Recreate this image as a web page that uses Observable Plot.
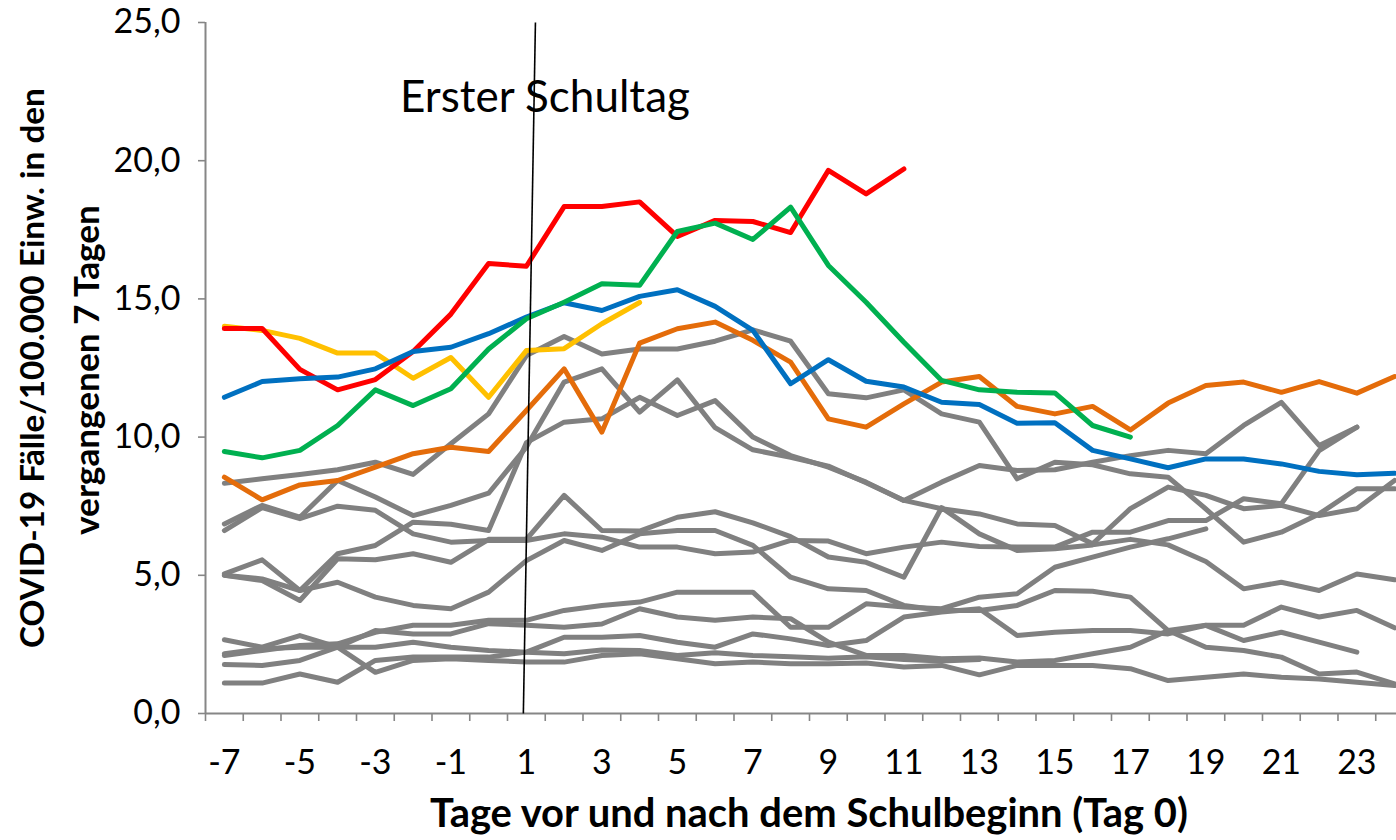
<!DOCTYPE html>
<html><head><meta charset="utf-8">
<script src="https://cdn.jsdelivr.net/npm/d3@7"></script>
<script src="https://cdn.jsdelivr.net/npm/@observablehq/plot@0.6"></script>
<style>
body{margin:0;background:#fff;}
#chart{position:relative;width:1396px;height:840px;overflow:hidden;background:#fff}
#chart svg{position:absolute;left:0;top:0}
</style>
</head><body><div id="chart"></div>
<script>
// Categories (days before/after school start)
const days = [-7,-6,-5,-4,-3,-2,-1,0,1,2,3,4,5,6,7,8,9,10,11,12,13,14,15,16,17,18,19,20,21,22,23,24];
const xTickLabels = [-7,-5,-3,-1,1,3,5,7,9,11,13,15,17,19,21,23];
const yTicks = [0,5,10,15,20,25];

// Highlighted series
const red    = [13.93,13.93,12.45,11.71,12.08,13.1,14.45,16.28,16.18,18.34,18.34,18.51,17.26,17.84,17.8,17.4,19.65,18.8,19.7];
const yellow = [14.01,13.86,13.57,13.04,13.04,12.13,12.88,11.44,13.13,13.2,14.1,14.87];
const green  = [9.48,9.25,9.52,10.42,11.71,11.14,11.75,13.19,14.28,14.88,15.55,15.49,17.44,17.74,17.15,18.32,16.21,14.88,13.43,12.05,11.71,11.62,11.6,10.42,10.0];
const blue   = [11.44,12.01,12.11,12.17,12.47,13.1,13.25,13.74,14.34,14.86,14.58,15.09,15.33,14.73,13.86,11.93,12.8,12.02,11.81,11.26,11.18,10.5,10.52,9.52,9.21,8.89,9.21,9.21,9.03,8.76,8.64,8.69];
const orange = [8.55,7.73,8.27,8.43,8.91,9.4,9.63,9.48,10.96,12.47,10.18,13.4,13.92,14.16,13.5,12.71,10.66,10.36,11.2,11.99,12.19,11.11,10.84,11.11,10.26,11.23,11.87,11.99,11.62,12.01,11.59,12.19];

// Grey series
const g1  = [8.33,8.49,8.65,8.82,9.09,8.65,9.76,10.84,12.95,13.64,13.01,13.19,13.19,13.47,13.88,13.47,11.57,11.42,11.71,10.84,10.54,8.49,9.09,9.0,8.67,8.55,7.4,6.2,6.56,7.22,8.13,8.13];
const g2  = [6.86,7.53,7.1,8.43,7.83,7.16,7.53,7.97,9.64,11.99,12.47,10.9,12.07,10.34,9.54,9.27,8.95,8.35,7.71,8.37,8.97,8.79,8.82,9.09,9.33,9.52,9.4,10.42,11.26,9.7,10.36];
const g3  = [5.05,5.56,4.45,5.78,6.08,6.92,6.85,6.62,9.8,10.54,10.66,11.44,10.78,11.32,10.0,9.33,8.91,8.37,7.71,7.41,7.22,6.86,6.8,6.14,7.41,8.19,7.89,7.41,7.53,7.16,7.41,8.43];
const g4  = [6.62,7.45,7.05,7.5,7.35,6.5,6.2,6.26,6.26,6.5,6.38,6.02,6.02,5.78,5.84,6.26,6.24,5.78,6.02,6.2,6.04,6.02,6.02,6.56,6.56,6.98,6.98,7.77,7.59,9.51,10.36];
const g5  = [5.0,4.81,4.09,5.6,5.56,5.78,5.47,6.3,6.3,7.89,6.62,6.6,7.1,7.3,6.9,6.4,5.66,5.47,4.93,7.45,6.5,5.9,5.96,6.1,6.3,6.1,5.5,4.51,4.75,4.45,5.05,4.84];
const g6  = [5.0,4.87,4.45,4.75,4.21,3.91,3.79,4.39,5.53,6.26,5.9,6.5,6.62,6.62,6.08,4.93,4.51,4.45,3.91,3.73,3.73,3.91,4.45,4.42,4.21,3.0,2.4,2.28,2.04,1.43,1.5,1.07];
const g7  = [2.67,2.4,2.82,2.4,1.49,1.92,1.98,1.92,1.86,1.86,2.1,2.16,1.98,1.8,1.86,1.8,1.8,1.83,1.68,1.74,1.4,1.74,1.74,1.74,1.62,1.19,1.31,1.43,1.31,1.25,1.13,1.01];
const g8  = [2.16,2.34,2.4,2.4,2.4,2.58,2.4,2.28,2.22,2.16,2.3,2.28,2.1,2.2,2.1,2.05,2.0,2.05,1.95,1.9,1.95];
const g9  = [2.1,2.28,2.46,2.52,2.94,3.19,3.19,3.37,3.37,3.73,3.91,4.03,4.39,4.39,4.39,3.12,3.12,3.97,3.85,3.79,4.21,4.33,5.29,5.66,6.02,6.32,6.68];
const g10 = [1.77,1.74,1.92,2.4,3.0,2.88,2.88,3.25,3.19,3.12,3.24,3.79,3.49,3.37,3.49,3.43,2.58,2.1,2.1,1.98,2.01,1.86,1.92,2.16,2.4,3.0,3.19,2.64,2.94,2.58,2.22];
const g11 = [1.1,1.1,1.43,1.13,1.92,2.04,2.04,2.04,2.22,2.76,2.76,2.82,2.58,2.4,2.88,2.7,2.46,2.64,3.49,3.67,3.79,2.82,2.94,3.0,3.0,2.88,3.19,3.19,3.85,3.49,3.73,3.1];

// Annotation: first school day marker
const markerLabel = "Erster Schultag";
const markerLine = [{x1: 1.24, y1: 25, x2: 0.92, y2: 0}];

const greySeries = {g1,g2,g3,g4,g5,g6,g7,g8,g9,g10,g11};
const colorSeries = [
  {name: "orange", values: orange, color: "#E46C0A"},
  {name: "yellow", values: yellow, color: "#FFC000"},
  {name: "red", values: red, color: "#FF0000"},
  {name: "blue", values: blue, color: "#0070C0"},
  {name: "green", values: green, color: "#00B050"}
];

function rows(name, values) {
  return values.map((v, i) => ({series: name, day: days[i], value: v})).filter(d => d.value != null);
}
const greyRows = Object.entries(greySeries).flatMap(([k, v]) => rows(k, v));

const xBoundaries = days.map(d => d - 0.5);
const fmt = d => d.toFixed(1).replace(".", ",");
const FONT = "Lato, 'Open Sans', sans-serif";

const lineOpts = {x: "day", y: "value", strokeWidth: 5, strokeLinejoin: "round", strokeLinecap: "round"};

const plot = Plot.plot({
  width: 1396, height: 840,
  marginLeft: 205, marginRight: 0, marginTop: 22, marginBottom: 127,
  x: {type: "linear", domain: [-7.5, 24.05]},
  y: {domain: [0, 25]},
  style: {fontFamily: FONT, background: "white", color: "#000", overflow: "hidden"},
  marks: [
    Plot.axisY(yTicks, {tickSize: 7, tickPadding: 18, tickFormat: fmt, fontSize: 34, stroke: "#868686", strokeWidth: 1.6, label: null, fill: "#000"}),
    Plot.axisX(xBoundaries, {tickSize: 8, tickFormat: () => "", stroke: "#868686", strokeWidth: 1.6, label: null}),
    Plot.axisX(xTickLabels, {tickSize: 0, tickPadding: 36, fontSize: 34, label: null, fill: "#000", tickFormat: d => String(d)}),
    Plot.ruleX([-7.5], {stroke: "#868686", strokeWidth: 2}),
    Plot.line(greyRows, {...lineOpts, z: "series", stroke: "#808080"}),
    ...colorSeries.map(s => Plot.line(rows(s.name, s.values), {...lineOpts, stroke: s.color})),
    Plot.ruleY([0], {stroke: "#868686", strokeWidth: 2}),
    Plot.link(markerLine, {x1: "x1", y1: "y1", x2: "x2", y2: "y2", stroke: "#000", strokeWidth: 1.6})
  ]
});
const host = document.getElementById("chart");
host.appendChild(plot);

const svg = d3.select(plot);
function fit(sel, target) {
  const w = sel.node().getComputedTextLength();
  const fs = parseFloat(sel.attr("font-size"));
  if (w > 0) sel.attr("font-size", (fs * target / w).toFixed(2));
}
const ann = svg.append("text").attr("x", 400).attr("y", 112).attr("text-anchor", "start")
  .attr("font-family", FONT).attr("font-size", 44).attr("fill", "#000").text(markerLabel);
fit(ann, 290);

const xt = svg.append("text").attr("x", 809).attr("y", 827).attr("text-anchor", "middle")
  .attr("font-family", FONT).attr("font-weight", "bold").attr("font-size", 36).attr("fill", "#000")
  .text("Tage vor und nach dem Schulbeginn (Tag 0)");
fit(xt, 758);

const yt1 = svg.append("text").attr("transform", "translate(44,368) rotate(-90)").attr("text-anchor", "middle")
  .attr("font-family", FONT).attr("font-weight", "bold").attr("font-size", 32).attr("fill", "#000")
  .text("COVID-19 Fälle/100.000 Einw. in den");
fit(yt1, 560);
const yt2 = svg.append("text").attr("transform", "translate(99,370) rotate(-90)").attr("text-anchor", "middle")
  .attr("font-family", FONT).attr("font-weight", "bold").attr("font-size", 32).attr("fill", "#000")
  .text("vergangenen 7 Tagen");
fit(yt2, 330);
</script>
</body></html>
